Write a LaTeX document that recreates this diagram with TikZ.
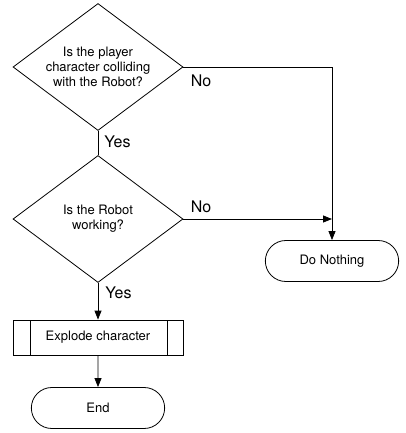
\documentclass[tikz,border=0pt]{standalone}
\usepackage{fontspec}
\setmainfont{TeX Gyre Heros}
\usetikzlibrary{shapes.geometric,shapes.misc,arrows.meta}

\begin{document}
\begin{tikzpicture}[x=1pt,y=-1pt]
\tikzset{choix/.style={draw, diamond, shape aspect=1.34, minimum width=170pt, minimum height=127pt, inner sep=0pt, align=center, font=\fontsize{13}{15}\selectfont},
  tache/.style={draw, rectangle, minimum width=170pt, minimum height=35pt, font=\fontsize{13}{15}\selectfont,
    path picture={\draw ([xshift=17pt]path picture bounding box.north west) -- ([xshift=17pt]path picture bounding box.south west);
      \draw ([xshift=-16pt]path picture bounding box.north east) -- ([xshift=-16pt]path picture bounding box.south east);}},
  borne/.style={draw, rounded rectangle, minimum width=140pt, minimum height=41pt, font=\fontsize{13}{15}\selectfont},
  rep/.style={font=\fontsize{16}{18}\selectfont, inner sep=0pt},
  fl/.style={-{Triangle[length=9pt,width=7pt]}}}
\useasboundingbox (0,0) rectangle (405,433);
\begin{scope}[line width=0.8pt]
\node[choix] (D1) at (98,67) {Is the player\\character colliding\\with the Robot?};
\node[choix] (D2) at (98,219) {Is the Robot\\working?};
\node[borne] (R) at (332,261) {Do Nothing};
\node[tache] (T) at (98,337.5) {Explode character};
\node[borne] (F) at (98,408) {End};
\coordinate (J) at (D2.east -| R.north);
\draw (D1) -- node[rep, pos=0, anchor=north west, xshift=6pt, yshift=-5pt] {Yes} (D2);
\draw[fl] (D1.east) -- node[rep, pos=0, anchor=north west, xshift=7pt, yshift=-7pt] {No} (D1.east -| R.north) -- (R.north);
\draw[fl] (D2.east) -- node[rep, pos=0, anchor=south west, xshift=7pt, yshift=6pt] {No} (J);
\draw[fl] (D2) -- node[rep, pos=0, anchor=north west, xshift=7pt, yshift=-4pt] {Yes} (T);
\draw[fl] (T) -- (F);
\end{scope}
\end{tikzpicture}
\end{document}
